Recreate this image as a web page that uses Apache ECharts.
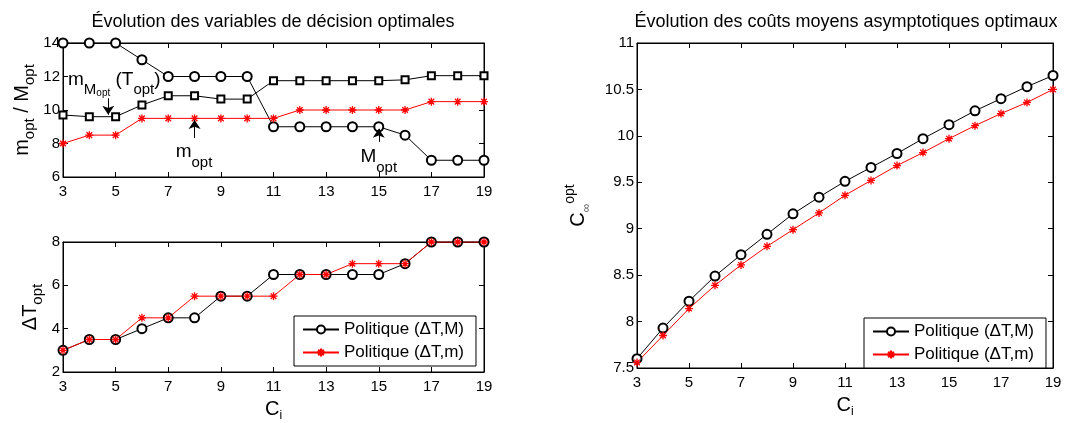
<!DOCTYPE html>
<html>
<head>
<meta charset="utf-8">
<script src="https://cdn.jsdelivr.net/npm/echarts@6/dist/echarts.min.js"></script>
<style>
html,body{margin:0;padding:0;background:#fff}
#Chart{width:1079px;height:423px}
</style>
</head>
<body>
<div id="Chart"></div>
<script>
// données
var Ci = [3, 4, 5, 6, 7, 8, 9, 10, 11, 12, 13, 14, 15, 16, 17, 18, 19];
var M_opt = [14, 14, 14, 13, 12, 12, 12, 12, 9, 9, 9, 9, 9, 8.5, 7, 7, 7];
var T_opt = [9.7, 9.6, 9.6, 10.3, 10.85, 10.85, 10.65, 10.65, 11.75, 11.75, 11.75, 11.75, 11.75, 11.8, 12.05, 12.05, 12.05];
var m_opt = [8, 8.5, 8.5, 9.5, 9.5, 9.5, 9.5, 9.5, 9.5, 10, 10, 10, 10, 10, 10.5, 10.5, 10.5];
var dT_M = [3, 3.5, 3.5, 4, 4.5, 4.5, 5.5, 5.5, 6.5, 6.5, 6.5, 6.5, 6.5, 7, 8, 8, 8];
var dT_m = [3, 3.5, 3.5, 4.5, 4.5, 5.5, 5.5, 5.5, 5.5, 6.5, 6.5, 7, 7, 7, 8, 8, 8];
var cout_M = [7.60, 7.93, 8.22, 8.49, 8.72, 8.94, 9.16, 9.34, 9.51, 9.66, 9.81, 9.97, 10.12, 10.27, 10.40, 10.53, 10.65];
var cout_m = [7.56, 7.85, 8.14, 8.39, 8.61, 8.81, 8.99, 9.17, 9.36, 9.52, 9.68, 9.82, 9.97, 10.11, 10.24, 10.36, 10.50];
var nomM = 'Politique (ΔT,M)';
var nomm = 'Politique (ΔT,m)';
// flèches [x, y départ, y pointe] et textes [x, y]
var fleches = [[4.72, 10.7, 9.72], [8, 8.33, 9.4], [15, 8.1, 8.88]];
var txt_mM = [3.19, 11.8];
var txt_mopt = [7.98, 7.5];
var txt_Mopt = [15.0, 7.2];

var FONT = 'Liberation Sans, Arial, sans-serif';
var etoile = 'path://M5,0L5,10M0,5L10,5M1.5,1.5L8.5,8.5M1.5,8.5L8.5,1.5';

function pts(ys) {
    return Ci.map(function (c, i) { return [c, ys[i]]; });
}

function xAxe(grid, pos, showLabel, name) {
    return {
        type: 'value', gridIndex: grid, position: pos,
        min: 3, max: 19, interval: 2,
        axisLine: {show: true, onZero: false, lineStyle: {color: '#000', width: 1}},
        axisTick: {show: true, inside: true, length: 5, lineStyle: {color: '#000'}},
        axisLabel: {show: showLabel, color: '#000', fontFamily: FONT, fontSize: 15, margin: 7},
        splitLine: {show: false},
        name: name || '', nameLocation: 'middle', nameGap: 24,
        nameTextStyle: {
            color: '#000', fontFamily: FONT,
            rich: {
                a: {fontSize: 20, fontFamily: FONT, color: '#000', lineHeight: 26},
                b: {fontSize: 12, fontFamily: FONT, color: '#000', lineHeight: 10, verticalAlign: 'bottom'}
            }
        }
    };
}

function yAxe(grid, pos, min, max, itv, showLabel, name, gap) {
    return {
        type: 'value', gridIndex: grid, position: pos,
        min: min, max: max, interval: itv,
        axisLine: {show: true, onZero: false, lineStyle: {color: '#000', width: 1}},
        axisTick: {show: true, inside: true, length: 5, lineStyle: {color: '#000'}},
        axisLabel: {show: showLabel, color: '#000', fontFamily: FONT, fontSize: 15, margin: 3},
        splitLine: {show: false},
        name: name || '', nameLocation: 'middle', nameGap: gap || 20,
        nameTextStyle: {
            color: '#000', fontFamily: FONT,
            rich: {
                a: {fontSize: 20, fontFamily: FONT, color: '#000', lineHeight: 30},
                b: {fontSize: 15, fontFamily: FONT, color: '#000', lineHeight: 14, verticalAlign: 'bottom'},
                sup: {fontSize: 14, fontFamily: FONT, color: '#000', lineHeight: 10, verticalAlign: 'top'},
                sub: {fontSize: 12, fontFamily: FONT, color: '#555', lineHeight: 12, verticalAlign: 'bottom'}
            }
        }
    };
}

function ligneNoire(name, data, sym, size, xi, yi) {
    return {
        name: name, type: 'line', data: data, xAxisIndex: xi, yAxisIndex: yi,
        symbol: sym, symbolSize: size, showAllSymbol: true,
        itemStyle: {color: '#000', borderColor: '#000', borderWidth: 1},
        lineStyle: {color: '#000', width: 1}
    };
}

function ligneRouge(name, data, xi, yi) {
    return {
        name: name, type: 'line', data: data, xAxisIndex: xi, yAxisIndex: yi,
        symbol: etoile, symbolSize: 8, showAllSymbol: true,
        itemStyle: {color: '#ff0000', borderColor: '#ff0000', borderWidth: 1.3},
        lineStyle: {color: '#ff0000', width: 1}
    };
}

var richAnnot = {
    a: {fontSize: 19, fontFamily: FONT, color: '#000', lineHeight: 36},
    b: {fontSize: 15, fontFamily: FONT, color: '#000', lineHeight: 20, verticalAlign: 'bottom'},
    c: {fontSize: 10, fontFamily: FONT, color: '#000', lineHeight: 6, verticalAlign: 'bottom'}
};

function texte(coord, fmt, align) {
    return {
        coord: coord, symbol: 'circle', symbolSize: 0,
        label: {show: true, position: align === 'left' ? 'right' : 'inside', distance: 0,
            formatter: fmt, rich: richAnnot, color: '#000'}
    };
}

function legende(left, top) {
    return {
        left: left, top: top, orient: 'vertical', data: [nomM, nomm],
        backgroundColor: '#fff', borderColor: '#000', borderWidth: 1,
        padding: [5, 12, 5, 8], itemGap: 6, itemWidth: 36, itemHeight: 10,
        textStyle: {fontFamily: FONT, fontSize: 17, color: '#000'}
    };
}

var myChart = echarts.init(document.getElementById('Chart'));
var option = {
    animation: false,
    backgroundColor: '#fff',
    textStyle: {fontFamily: FONT},
    grid: [
        {left: 63, top: 43, width: 421, height: 134, show: true, borderColor: '#000', borderWidth: 1},
        {left: 63, top: 242, width: 421, height: 135, show: true, borderColor: '#000', borderWidth: 1},
        {left: 637, top: 43, width: 416, height: 336, show: true, borderColor: '#000', borderWidth: 1}
    ],
    graphic: [
        {type: 'text', x: 273, y: 22, style: {text: 'Évolution des variables de décision optimales',
            font: '18px ' + FONT, fill: '#000', textAlign: 'center', textVerticalAlign: 'middle'}},
        {type: 'text', x: 846, y: 22, style: {text: 'Évolution des coûts moyens asymptotiques optimaux',
            font: '18px ' + FONT, fill: '#000', textAlign: 'center', textVerticalAlign: 'middle'}}
    ],
    xAxis: [
        xAxe(0, 'bottom', true),
        xAxe(1, 'bottom', true, '{a|C}{b|i}'),
        xAxe(2, 'bottom', true, '{a|C}{b|i}'),
        xAxe(0, 'top', false),
        xAxe(1, 'top', false),
        xAxe(2, 'top', false)
    ],
    yAxis: [
        yAxe(0, 'left', 6, 14, 2, true, '{a|m}{b|opt}{a| / M}{b|opt}', 26),
        yAxe(1, 'left', 2, 8, 2, true, '{a|ΔT}{b|opt}', 18),
        yAxe(2, 'left', 7.5, 11, 0.5, true, '{a|C}{sub|∞}{sup|opt}', 44),
        yAxe(0, 'right', 6, 14, 2, false),
        yAxe(1, 'right', 2, 8, 2, false),
        yAxe(2, 'right', 7.5, 11, 0.5, false)
    ],
    legend: [legende(294, 316), legende(864, 318)],
    series: [
        (function () {
            var s = ligneNoire('M_opt', pts(M_opt), 'emptyCircle', 9, 0, 0);
            s.markLine = {
                silent: true, symbol: ['none', 'arrow'], symbolSize: 9,
                lineStyle: {color: '#000', width: 1, type: 'solid'},
                label: {show: false},
                data: fleches.map(function (f) {
                    return [{coord: [f[0], f[1]]}, {coord: [f[0], f[2]]}];
                })
            };
            s.markPoint = {
                silent: true,
                data: [
                    texte(txt_mM, '{a|m}{b|M}{c|opt}{a| (T}{b|opt}{a|)}', 'left'),
                    texte(txt_mopt, '{a|m}{b|opt}'),
                    texte(txt_Mopt, '{a|M}{b|opt}')
                ]
            };
            return s;
        })(),
        ligneNoire('T_opt', pts(T_opt), 'emptyRect', 7, 0, 0),
        ligneRouge('m_opt', pts(m_opt), 0, 0),
        ligneNoire(nomM, pts(dT_M), 'emptyCircle', 9, 1, 1),
        ligneRouge(nomm, pts(dT_m), 1, 1),
        ligneNoire(nomM, pts(cout_M), 'emptyCircle', 9, 2, 2),
        ligneRouge(nomm, pts(cout_m), 2, 2)
    ]
};
myChart.setOption(option);
window.addEventListener('resize', function () {
    myChart.resize();
});
</script>
</body>
</html>
